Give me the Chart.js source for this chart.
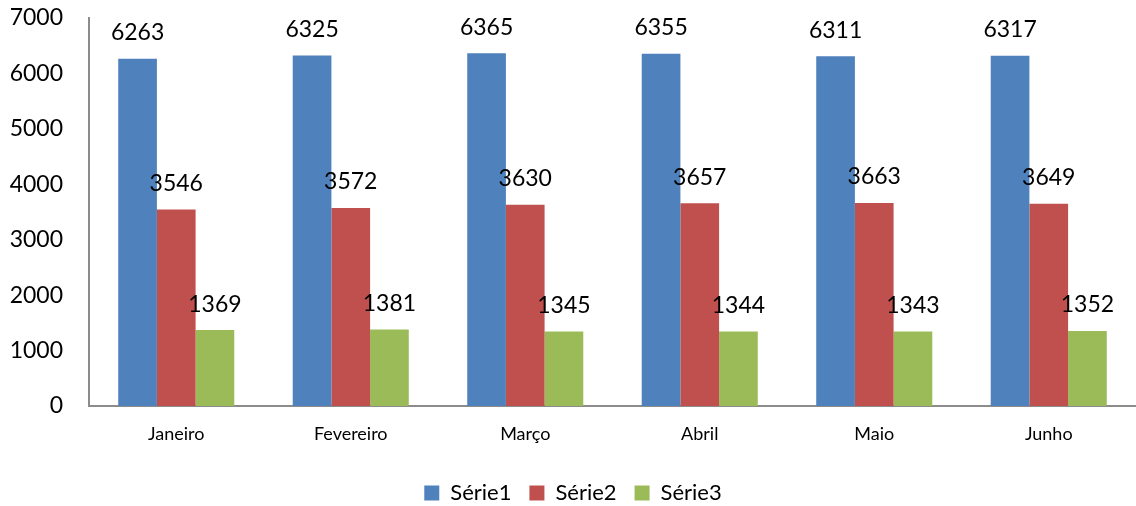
<!DOCTYPE html>
<html><head><meta charset="utf-8">
<script src="https://cdn.jsdelivr.net/npm/chart.js@4/dist/chart.umd.min.js"></script>
<style>html,body{margin:0;padding:0;background:#fff}#w{width:1136px;height:506px}</style>
</head><body><div id="w"><canvas id="c"></canvas></div>
<script>
const categories = ['Janeiro','Fevereiro','Março','Abril','Maio','Junho'];
const serie1 = [6263,6325,6365,6355,6311,6317];
const serie2 = [3546,3572,3630,3657,3663,3649];
const serie3 = [1369,1381,1345,1344,1343,1352];
const seriesNames = ['Série1','Série2','Série3'];
const colors = ['#4F81BD','#C0504D','#9BBB59'];
const FONT = 'Lato, "Open Sans", sans-serif';

const labelPlugin = {
  id:'valueLabels',
  afterDatasetsDraw(chart){
    const ctx = chart.ctx;
    ctx.save();
    ctx.font = '23px ' + FONT;
    ctx.fillStyle = '#000';
    ctx.textAlign = 'center';
    ctx.textBaseline = 'middle';
    chart.data.datasets.forEach((ds,i)=>{
      chart.getDatasetMeta(i).data.forEach((bar,j)=>{
        ctx.fillText(String(ds.data[j]), bar.x, bar.y - 26);
      });
    });
    ctx.restore();
  }
};

new Chart(document.getElementById('c'),{
  type:'bar',
  data:{
    labels:categories,
    datasets:[serie1,serie2,serie3].map((d,i)=>({label:seriesNames[i],data:d,backgroundColor:colors[i],borderWidth:0}))
  },
  options:{
    responsive:true,maintainAspectRatio:false,animation:false,
    layout:{padding:{left:10,right:0,top:0,bottom:-8}},
    datasets:{bar:{categoryPercentage:0.665,barPercentage:1}},
    scales:{
      x:{grid:{display:false},border:{display:true,color:'#8c8c8c',width:2},
         ticks:{color:'#000',font:{family:FONT,size:18},padding:9},
         afterFit(s){ s.height = 58; s.paddingLeft = 0; s.paddingRight = 0; }},
      y:{min:0,max:7000,grid:{display:false},border:{display:true,color:'#8c8c8c',width:2},
         ticks:{stepSize:1000,color:'#000',font:{family:FONT,size:23},padding:18,callback:v=>String(v)},
         afterFit(s){ s.width = 79; s.paddingTop = 18; s.paddingBottom = 0; }}
    },
    plugins:{
      legend:{position:'bottom',labels:{color:'#000',font:{family:FONT,size:22},boxWidth:15,boxHeight:15,padding:18}},
      tooltip:{enabled:false}
    }
  },
  plugins:[labelPlugin]
});
</script></body></html>
